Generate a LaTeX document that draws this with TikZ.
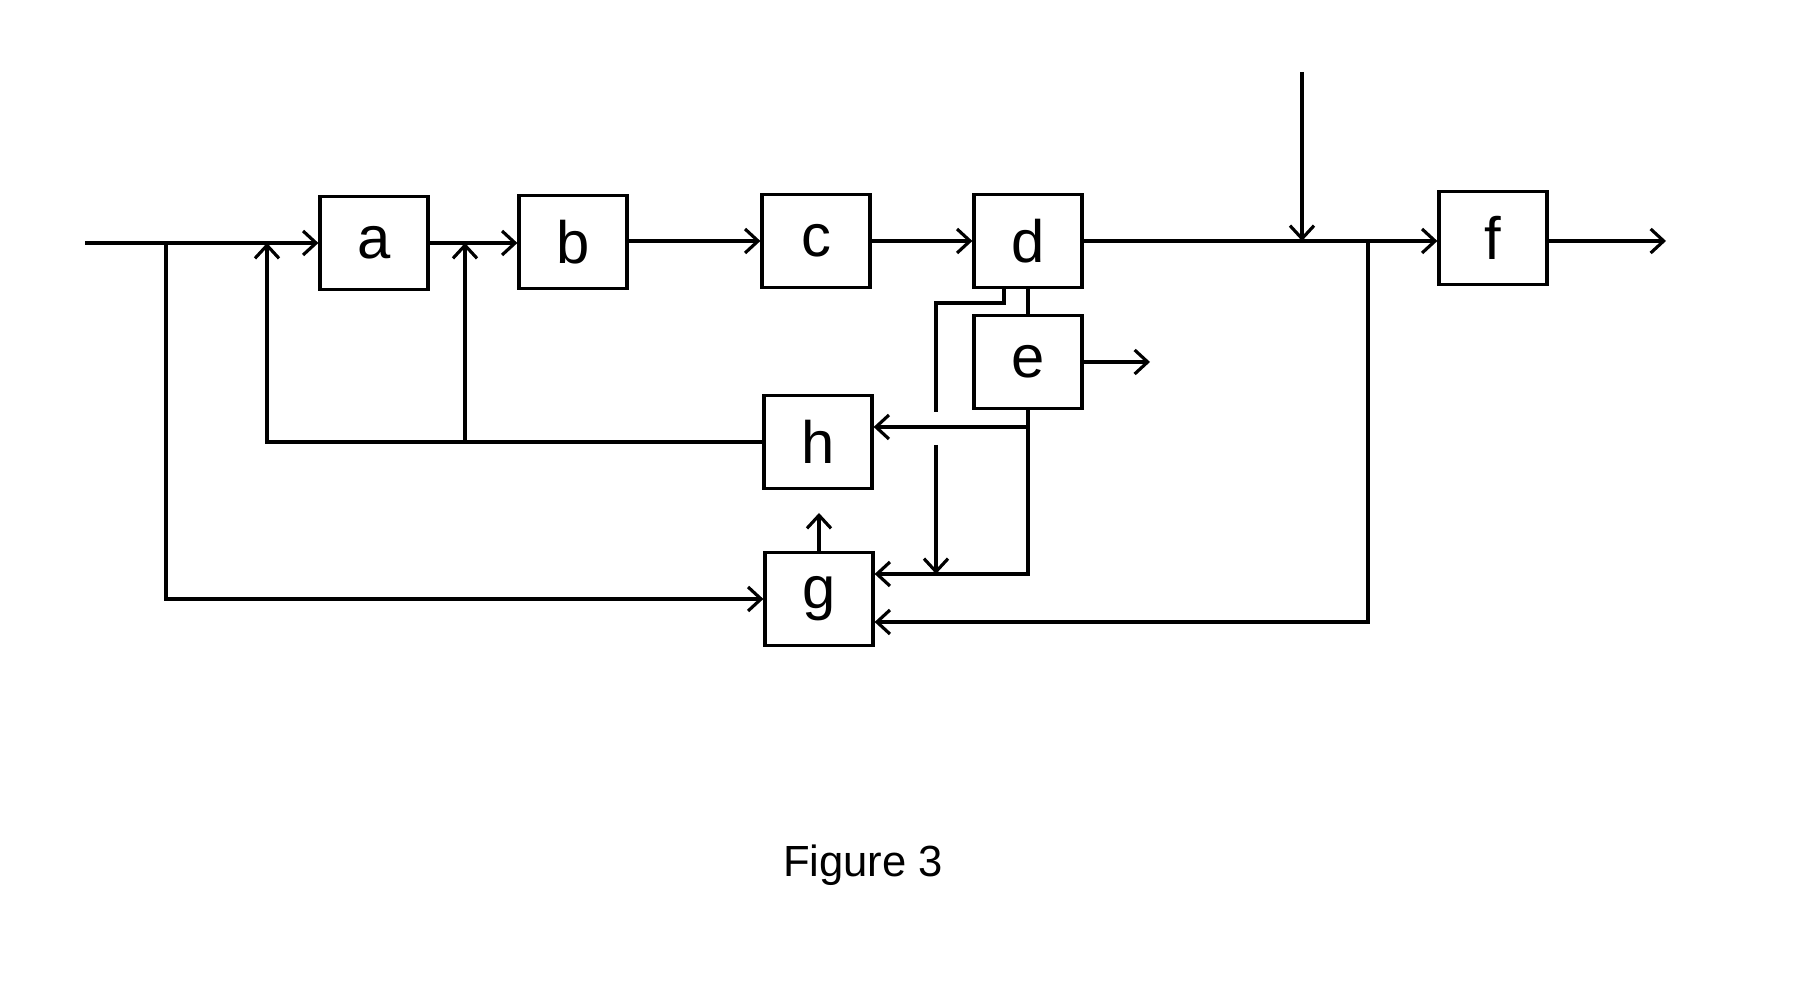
\documentclass[tikz,border=0pt]{standalone}
\usepackage{fontspec}
\setmainfont{Liberation Sans}
\usetikzlibrary{arrows.meta}
\begin{document}
\begin{tikzpicture}[x=0.01cm,y=-0.01cm,line width=0.9pt,
  >={Straight Barb[length=1.3mm,width=2.4mm]},
  blk/.style={draw, minimum width=1.08cm, minimum height=0.93cm, inner sep=0pt, font=\fontsize{17}{17}\selectfont}]
\useasboundingbox (0,0) rectangle (1808,998);
\node[blk] (a) at (374,243) {a};
\node[blk] (b) at (573,242) {b};
\node[blk] (c) at (816,241) {c};
\node[blk] (d) at (1028,241) {d};
\node[blk] (e) at (1028,362) {e};
\node[blk] (h) at (818,442) {h};
\node[blk] (g) at (819,599) {g};
\node[blk] (f) at (1493,238) {f};
\node[anchor=base, font=\fontsize{12.4}{14}\selectfont] (cap) at (863,877) {Figure 3};
\coordinate (in) at (85,243);
\coordinate (j1) at (166,243);
\coordinate (fa) at (267,243);
\coordinate (fb) at (465,243);
\coordinate (top) at (1302,72);
\coordinate (j3) at (1302,241);
\coordinate (j4) at (1368,241);
\coordinate (out) at (1666,241);
\coordinate (eout) at (1150,362);
\coordinate (k1) at (1004,303);
\coordinate (k2) at (936,303);
\coordinate (k3) at (936,412);
\coordinate (k4) at (936,445);
\coordinate (k5) at (936,574);
\coordinate (m1) at (1028,427);
\coordinate (m2) at (1028,574);
\coordinate (gh) at (819,513);
\draw[->] (in) -- (a.west |- in);
\draw[->] (a.east |- fb) -- (b.west |- fb);
\draw[->] (b.east |- c) -- (c);
\draw[->] (c) -- (d);
\draw[->] (d.east) -- (f.west |- d.east);
\draw[->] (f.east |- out) -- (out);
\draw[->] (top) -- (j3);
\draw[->] (j1) |- (g.west);
\draw[->] (h.west) -| (fa);
\draw[->] (h.west -| fb) -- (fb);
\draw[->] (j4) |- ([yshift=-0.23cm]g.east);
\draw (d) -- (e);
\draw[->] (e.east) -- (eout);
\draw (k1 |- d.south) -- (k1) -- (k2) -- (k3);
\draw[->] (k4) -- (k5);
\draw[->] (m1) -- (m1 -| h.east);
\draw[->] (e.south) -- (m2) -- (m2 -| g.east);
\draw[->] (g.north) -- (gh);
\end{tikzpicture}
\end{document}
